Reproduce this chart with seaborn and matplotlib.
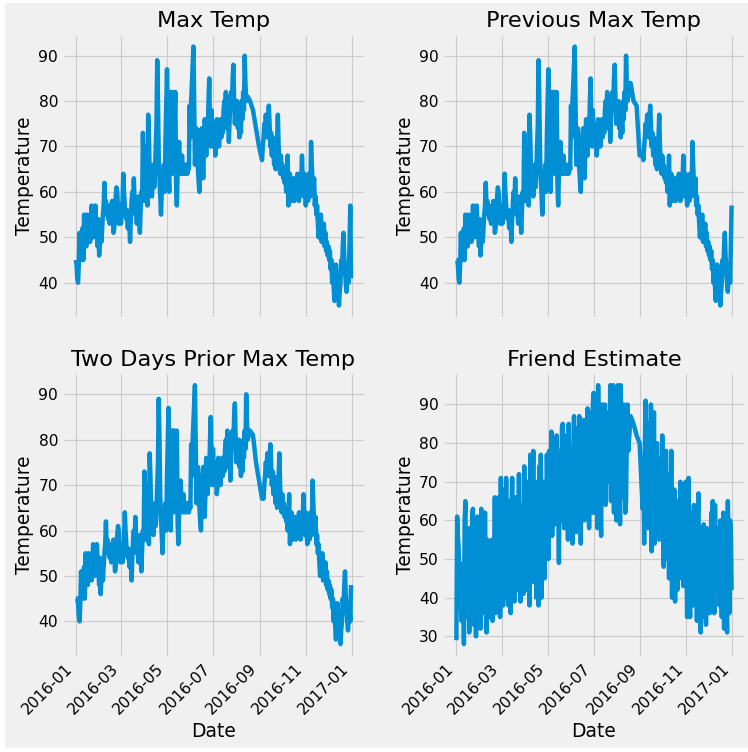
import numpy as np
import pandas as pd
import matplotlib
matplotlib.use("Agg")
import matplotlib.pyplot as plt
import seaborn as sns
from matplotlib.patches import Rectangle

# ---------------- data ----------------
# Daily max temperature (deg F), 2015-12-30 and 2015-12-31 followed by every day of 2016
prior_max = [45, 45]
max_jan = [45,44,41,40,44,51,45,48,50,52,45,55,50,49,48,55,50,52,54,49,53,57,54,50,55,52,57,52,51,48,54]
max_feb = [46,50,53,49,52,55,57,62,56,58,55,57,54,56,53,57,55,58,56,51,52,55,59,61,60,56,53,57,55]
max_mar = [53,56,58,64,60,57,55,54,56,52,55,53,49,54,58,60,57,63,58,55,56,53,57,59,55,51,56,60,58,73,66]
max_apr = [58,64,70,65,57,77,72,64,60,62,59,63,66,61,64,70,75,89,80,68,63,59,55,60,64,62,66,60,72,80]
max_may = [87,75,64,60,82,70,82,64,82,66,76,82,62,57,64,66,71,67,64,66,68,64,65,66,64,65,66,64,66,65,79]
max_jun = [72,80,84,88,92,80,66,70,74,68,65,62,60,67,72,74,68,63,70,76,73,68,75,72,80,85,74,70,78,72]
max_jul = [75,70,74,68,70,76,72,75,70,74,76,72,75,73,78,80,76,82,74,81,78,71,76,80,82,79,85,88,80,75,78]
max_aug = [76,80,74,78,72,77,73,80,76,82,78,90,84,80,81,81,82,84,80,79,81,80,78,76,75,79,74,72,71,68,70]
max_sep = [66,67,68,67,70,72,75,73,77,74,72,76,79,75,70,73,68,72,70,66,68,65,70,72,77,70,66,64,68,65]
max_oct = [66,63,65,62,64,60,63,68,57,62,64,60,58,62,60,63,58,61,62,59,64,60,58,62,61,63,68,62,59,64,60]
max_nov = [57,60,62,58,64,61,59,71,66,62,60,63,57,59,55,57,53,50,54,52,55,49,52,50,53,48,51,47,49,46]
max_dec = [48,45,47,43,45,40,44,39,36,41,44,40,38,42,35,38,40,45,42,48,51,46,43,40,38,42,44,40,48,57,41]

# Friend's estimate for every day of 2016
friend_jan = [29,61,56,53,41,40,38,34,47,49,28,60,65,35,52,44,58,31,40,55,36,62,63,33,48,57,30,50,61,38,45]
friend_feb = [54,32,63,40,58,36,50,62,44,31,55,38,47,35,52,42,55,34,49,40,66,36,58,45,38,66,50,35,71]
friend_mar = [42,62,38,68,55,40,71,46,58,38,65,50,36,60,71,44,55,39,66,48,60,42,57,72,50,39,64,45,58,41,74]
friend_apr = [52,42,70,60,45,68,38,77,55,48,62,78,44,58,70,40,66,50,38,74,58,77,40,62,52,70,45,60,54,77]
friend_may = [66,50,78,60,72,83,56,65,80,62,59,75,82,64,70,49,78,66,60,84,85,70,58,76,62,82,68,55,85,72,64]
friend_jun = [60,78,54,72,87,66,80,57,75,84,62,87,70,54,80,68,74,86,60,79,72,66,89,76,58,88,70,82,62,90]
friend_jul = [93,62,80,72,88,58,95,70,84,62,56,90,74,66,82,90,64,87,76,73,88,70,95,65,86,78,95,62,82,90,60]
friend_aug = [80,95,72,88,59,95,70,84,66,90,75,62,65,82,90,78,88,87,87,86,86,85,85,84,84,83,82,80,76,70,80]
friend_sep = [70,66,64,63,75,54,80,91,66,74,58,85,62,70,90,52,78,60,88,54,72,66,80,58,76,55,70,62,68,82]
friend_oct = [64,48,70,58,78,50,62,72,45,66,55,78,40,60,41,68,39,56,65,42,62,50,58,70,45,55,64,43,60,52,70]
friend_nov = [52,35,58,71,40,35,62,45,55,38,64,48,40,56,34,60,67,36,50,31,58,44,35,59,40,52,33,58,46,38]
friend_dec = [55,36,48,62,40,65,50,36,64,45,58,42,56,48,38,60,44,35,52,62,32,48,58,40,31,65,52,36,60,57,42]

# Days without a record
missing_days = ["2016-08-17", "2016-08-18", "2016-08-20", "2016-08-21", "2016-08-22",
                "2016-08-24", "2016-08-25", "2016-08-26", "2016-08-28", "2016-08-29",
                "2016-08-30", "2016-09-01", "2016-09-02", "2016-09-03"]

titles = ["Max Temp", "Previous Max Temp", "Two Days Prior Max Temp", "Friend Estimate"]

# ---------------- assemble ----------------
max_all = np.array(prior_max + max_jan + max_feb + max_mar + max_apr + max_may + max_jun +
                   max_jul + max_aug + max_sep + max_oct + max_nov + max_dec, dtype=float)
friend_all = np.array(friend_jan + friend_feb + friend_mar + friend_apr + friend_may + friend_jun +
                      friend_jul + friend_aug + friend_sep + friend_oct + friend_nov + friend_dec,
                      dtype=float)
all_dates = pd.date_range("2016-01-01", "2016-12-31", freq="D")
keep = ~all_dates.isin(pd.to_datetime(missing_days))
idx = np.arange(len(all_dates))[keep]
dates = all_dates[keep]

series = [max_all[idx + 2],   # actual
          max_all[idx + 1],   # previous day
          max_all[idx],       # two days prior
          friend_all[idx]]    # friend

# ---------------- plot ----------------
plt.style.use("fivethirtyeight")
plt.rcParams["font.family"] = ["DejaVu Sans"]

fig, axes = plt.subplots(nrows=2, ncols=2, figsize=(748 / 80, 752 / 80), dpi=80)
fig.patch.set_facecolor("white")
fig.patches.append(Rectangle((5 / 748, 4 / 752), 1 - 5 / 748, 1 - 7 / 752,
                             transform=fig.transFigure, facecolor="#f0f0f0",
                             edgecolor="none", zorder=-1))

for ax, y, title in zip(axes.flat, series, titles):
    df = pd.DataFrame({"Date": dates, "Temperature": y})
    sns.lineplot(data=df, x="Date", y="Temperature", ax=ax, color="#008fd5",
                 linewidth=4, estimator=None)
    ax.set_title(title)
    ax.set_ylabel("Temperature")
    ax.set_xlabel("")

axes[1, 0].set_xlabel("Date")
axes[1, 1].set_xlabel("Date")

fig.autofmt_xdate(rotation=45)
fig.subplots_adjust(left=0.0829, right=0.9965, top=0.9553, bottom=0.1263,
                    wspace=0.257, hspace=0.189)

fig.savefig("out.png", dpi=80, facecolor="white")
